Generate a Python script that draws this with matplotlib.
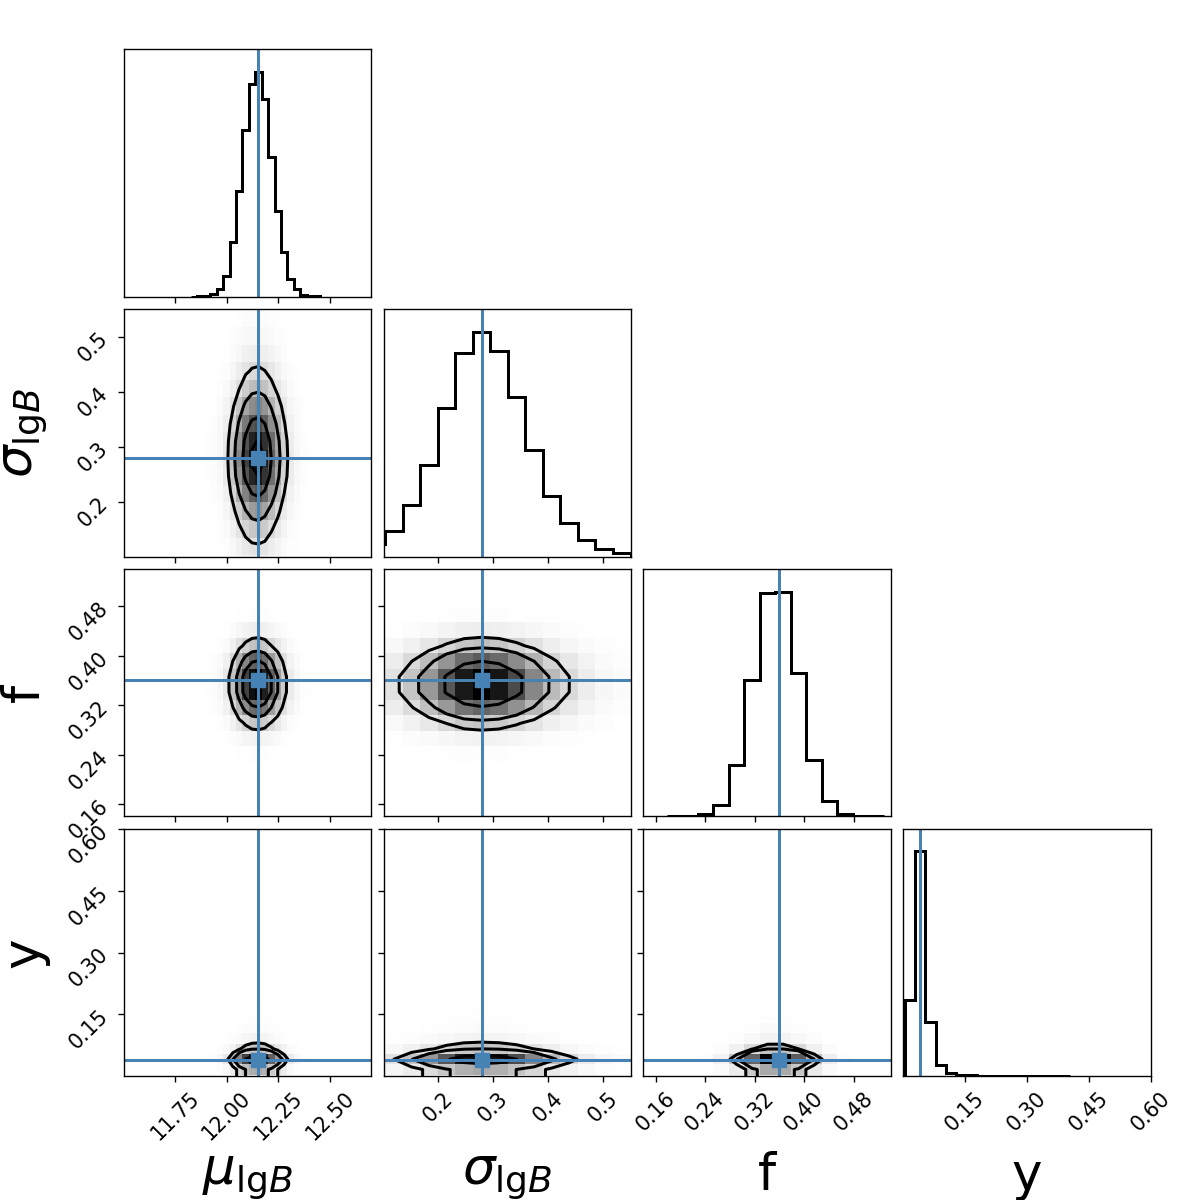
import numpy as np
import matplotlib
matplotlib.use('Agg')
import matplotlib.pyplot as plt
from matplotlib.ticker import MaxNLocator, NullLocator

s = 1200 / 9.7 / 100  # scale pt sizes: original drawn at ~123.7 dpi
plt.rcParams.update({
    'font.size': 12 * s,
    'axes.linewidth': 0.8 * s,
    'xtick.major.size': 3.5 * s, 'ytick.major.size': 3.5 * s,
    'xtick.major.width': 0.8 * s, 'ytick.major.width': 0.8 * s,
    'xtick.major.pad': 3.5 * s, 'ytick.major.pad': 3.5 * s,
})

labels = [r"$\mu_{\rm lg\mathit{B}}$", r"$\sigma_{\rm lg\mathit{B}}$", "f", "y"]
truths = [12.15, 0.28, 0.36, 0.04]
ranges = [(11.50, 12.70), (0.10, 0.55), (0.14, 0.54), (0.0, 0.60)]

# marginal histograms (peak = 1), first bin edge + bin width
mu_start, mu_width = 11.826, 0.03118
mu_hist = [0.001, 0.002, 0.005, 0.015, 0.034, 0.094, 0.242, 0.473, 0.743, 0.945,
           1.0, 0.881, 0.624, 0.383, 0.198, 0.079, 0.034, 0.009, 0.004, 0.002]
sig_start, sig_width = 0.0711, 0.03188
sig_hist = [0.056, 0.116, 0.231, 0.407, 0.662, 0.904, 1.0, 0.916, 0.708, 0.474,
            0.271, 0.151, 0.074, 0.034, 0.016, 0.006]
f_start, f_width = 0.1781, 0.02505
f_hist = [0.001, 0.003, 0.009, 0.053, 0.23, 0.607, 0.994, 1.0, 0.637, 0.249,
          0.067, 0.009, 0.003, 0.001]
y_start, y_width = 0.004, 0.025
y_hist = [0.338, 1.0, 0.241, 0.049, 0.016, 0.007, 0.004, 0.0025, 0.0018, 0.0012,
          0.001, 0.0008, 0.0006, 0.0005, 0.0004, 0.0003]

hists = [np.array(h) for h in (mu_hist, sig_hist, f_hist, y_hist)]
edges = [st + w * np.arange(len(h) + 1) for st, w, h in
         [(mu_start, mu_width, mu_hist), (sig_start, sig_width, sig_hist),
          (f_start, f_width, f_hist), (y_start, y_width, y_hist)]]

truth_color = "#4682b4"
levels = 1.0 - np.exp(-0.5 * np.arange(0.5, 2.1, 0.5) ** 2)
lw = 1.75 * s


def pad_centers(e):
    c = 0.5 * (e[1:] + e[:-1])
    d = c[1] - c[0]
    return np.concatenate([c[0] + np.array([-2, -1]) * d, c, c[-1] + np.array([1, 2]) * d])


def hist2d(ax, xi, yi):
    H = np.outer(hists[xi], hists[yi])
    ax.pcolormesh(edges[xi], edges[yi], H.T, cmap='gray_r', vmin=0, vmax=H.max())
    # contour levels enclosing given mass fractions
    Hflat = np.sort(H.flatten())[::-1]
    sm = np.cumsum(Hflat)
    sm /= sm[-1]
    V = np.empty(len(levels))
    for k, v0 in enumerate(levels):
        try:
            V[k] = Hflat[sm <= v0][-1]
        except IndexError:
            V[k] = Hflat[0]
    V.sort()
    H2 = H.min() + np.zeros((H.shape[0] + 4, H.shape[1] + 4))
    H2[2:-2, 2:-2] = H
    H2[2:-2, 1] = H[:, 0]
    H2[2:-2, -2] = H[:, -1]
    H2[1, 2:-2] = H[0]
    H2[-2, 2:-2] = H[-1]
    H2[1, 1] = H[0, 0]
    H2[1, -2] = H[0, -1]
    H2[-2, 1] = H[-1, 0]
    H2[-2, -2] = H[-1, -1]
    ax.contour(pad_centers(edges[xi]), pad_centers(edges[yi]), H2.T, V,
               colors='k', linewidths=lw)


K = 4
fig, axes = plt.subplots(K, K, figsize=(12, 12), dpi=100)
lb = 1.0 / 9.7
tr = 1.0 - 0.4 / 9.7
fig.subplots_adjust(left=lb, bottom=lb, right=tr, top=tr, wspace=0.05, hspace=0.05)

for i in range(K):
    for j in range(K):
        ax = axes[i, j]
        if j > i:
            ax.set_frame_on(False)
            ax.set_xticks([])
            ax.set_yticks([])
            continue
        if i == j:
            ax.stairs(hists[i], edges[i], color='k', lw=lw)
            ax.axvline(truths[i], color=truth_color, lw=lw)
            ax.set_xlim(ranges[i])
            ax.set_ylim(0, 1.1 * hists[i].max())
            ax.yaxis.set_major_locator(NullLocator())
        else:
            hist2d(ax, j, i)
            ax.axvline(truths[j], color=truth_color, lw=lw)
            ax.axhline(truths[i], color=truth_color, lw=lw)
            ax.plot(truths[j], truths[i], 's', color=truth_color, ms=8.5 * s)
            ax.set_xlim(ranges[j])
            ax.set_ylim(ranges[i])
            ax.yaxis.set_major_locator(MaxNLocator(5, prune='lower'))
        ax.xaxis.set_major_locator(MaxNLocator(5, prune='lower'))

        if i < K - 1:
            ax.set_xticklabels([])
        else:
            for l in ax.get_xticklabels():
                l.set_rotation(45)
            ax.set_xlabel(labels[j], fontsize=30 * s)
            ax.xaxis.set_label_coords(0.5, -0.3)
        if j > 0 or i == 0:
            ax.set_yticklabels([])
        else:
            for l in ax.get_yticklabels():
                l.set_rotation(45)
            ax.set_ylabel(labels[i], fontsize=30 * s)
            ax.yaxis.set_label_coords(-0.3, 0.5)

plt.savefig("out.png", dpi=100)
plt.close()
